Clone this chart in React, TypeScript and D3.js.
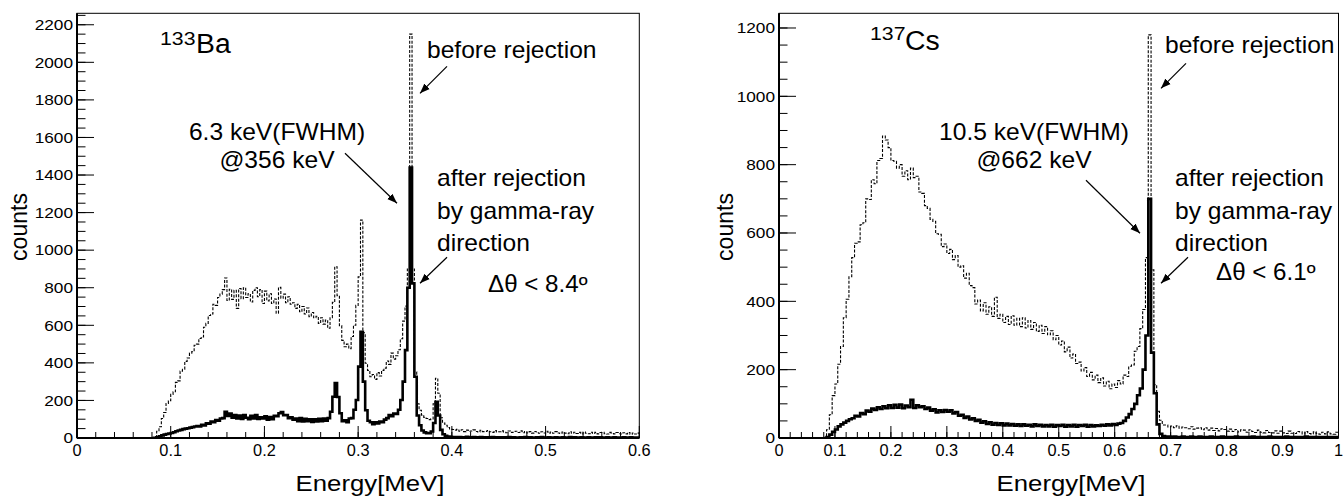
import React from 'react';
import * as d3 from 'd3';

// ---------- data: 133Ba (bins of 2.5 keV starting at 0.08 MeV) ----------
const baBinStart = 0.08;
const baBinWidth = 0.0025;
const baBefore = [
  0, 8, 36, 60, 104, 136, 184, 198, 232, 246,
  296, 304, 356, 366, 408, 426, 452, 460, 494, 500,
  530, 538, 590, 610, 652, 660, 712, 706, 748, 766,
  790, 852, 732, 792, 738, 786, 690, 796, 742, 800,
  748, 768, 724, 786, 800, 752, 790, 716, 782, 730,
  768, 716, 740, 664, 802, 744, 766, 720, 752, 712,
  720, 690, 712, 672, 700, 660, 692, 646, 668, 640,
  648, 610, 640, 606, 628, 584, 640, 722, 912, 758,
  598, 520, 486, 500, 476, 540, 600, 706, 858, 1160,
  560, 398, 360, 326, 338, 312, 348, 330, 360, 372,
  410, 392, 452, 420, 438, 470, 528, 622, 702, 900,
  2150, 900, 352, 182, 148, 122, 110, 104, 98, 102,
  182, 318, 238, 108, 80, 68, 56, 48, 45, 42,
  46, 36, 44, 34, 42, 36, 37, 43, 35, 32,
  41, 34, 35, 40, 33, 30, 39, 32, 33, 38,
  31, 28, 37, 30, 31, 36, 29, 38, 28, 35,
  27, 34, 26, 35, 28, 25, 33, 27, 36, 26,
  32, 25, 34, 27, 24, 32, 26, 23, 33, 25,
  31, 24, 30, 22, 32, 25, 23, 31, 24, 30,
  22, 29, 31, 23, 21, 30, 24, 22, 29, 23,
  21, 28, 22, 29, 20, 27, 21, 26,
];
const baAfter = [
  0, 1, 4, 9, 14, 18, 21, 24, 27, 31,
  36, 40, 43, 47, 50, 52, 55, 58, 61, 63,
  62, 70, 67, 78, 76, 88, 84, 96, 92, 104,
  106, 140, 118, 130, 108, 122, 104, 120, 102, 122,
  108, 100, 118, 104, 122, 102, 110, 104, 116, 98,
  112, 100, 118, 116, 132, 138, 122, 122, 106, 110,
  98, 104, 90, 106, 88, 102, 90, 100, 86, 100,
  88, 102, 90, 104, 92, 106, 140, 220, 292, 218,
  132, 90, 94, 84, 104, 106, 150, 202, 380, 565,
  300, 148, 92, 84, 74, 84, 78, 88, 84, 98,
  106, 122, 116, 130, 128, 150, 202, 300, 468, 800,
  1440, 823, 326, 120, 68, 40, 30, 26, 26, 35,
  80, 193, 120, 43, 20, 12, 8, 6, 5, 5,
  4, 5, 3, 4, 6, 3, 4, 5, 3, 4,
  5, 3, 4, 4, 3, 5, 4, 3, 4, 3,
  4, 3, 5, 3, 4, 3, 3, 4, 3, 5,
  3, 4, 3, 3, 4, 3, 5, 3, 3, 4,
  3, 3, 4, 3, 3, 4, 3, 3, 5, 3,
  4, 3, 3, 4, 3, 3, 4, 3, 3, 4,
  3, 4, 3, 3, 4, 3, 3, 4, 3, 3,
  3, 4, 3, 3, 4, 3, 3, 3,
];

// ---------- data: 137Cs (bins of 5 keV starting at 0.08 MeV) ----------
const csBinStart = 0.08;
const csBinWidth = 0.005;
const csBefore = [
  0, 24, 68, 124, 158, 216, 268, 352, 406, 472,
  528, 570, 574, 624, 630, 700, 698, 756, 744, 812,
  818, 884, 872, 850, 812, 810, 790, 800, 766, 782,
  756, 790, 762, 766, 720, 716, 680, 672, 640, 634,
  598, 596, 560, 568, 540, 552, 522, 534, 500, 504,
  468, 482, 446, 440, 392, 404, 372, 396, 362, 384,
  356, 412, 350, 362, 338, 356, 332, 358, 330, 350,
  326, 352, 322, 344, 318, 338, 312, 330, 306, 326,
  302, 314, 288, 300, 272, 284, 252, 266, 234, 246,
  218, 222, 196, 206, 180, 192, 170, 184, 162, 176,
  152, 166, 144, 158, 148, 168, 158, 184, 180, 210,
  214, 254, 268, 320, 376, 528, 1180, 492, 156, 78,
  52, 38, 38, 32, 35, 30, 36, 29, 32, 30,
  27, 33, 26, 29, 30, 24, 30, 23, 29, 22,
  28, 21, 27, 25, 20, 26, 19, 25, 18, 24,
  23, 17, 24, 19, 16, 23, 17, 15, 22, 16,
  15, 21, 14, 20, 15, 13, 20, 14, 13, 19,
  18, 12, 19, 13, 12, 18, 13, 11, 17, 12,
  18, 12, 11, 17,
];
const csAfter = [
  0, 3, 10, 18, 25, 34, 40, 45, 50, 55,
  58, 65, 63, 73, 70, 80, 77, 86, 82, 90,
  85, 93, 87, 96, 88, 97, 89, 98, 87, 95,
  90, 112, 88, 96, 90, 93, 85, 89, 80, 84,
  75, 81, 76, 82, 77, 81, 72, 76, 65, 68,
  59, 63, 54, 58, 50, 53, 45, 49, 41, 46,
  39, 44, 38, 43, 37, 42, 37, 41, 36, 40,
  35, 40, 36, 39, 34, 40, 35, 39, 34, 38,
  34, 39, 33, 38, 35, 39, 33, 38, 34, 39,
  33, 38, 35, 39, 33, 38, 34, 37, 35, 39,
  36, 40, 37, 41, 38, 42, 44, 50, 60, 70,
  85, 100, 125, 145, 200, 300, 700, 250, 131, 40,
  12, 6, 4, 4, 3, 4, 3, 3, 4, 3,
  3, 4, 3, 3, 4, 3, 3, 3, 4, 3,
  3, 3, 4, 3, 3, 3, 3, 4, 3, 3,
  3, 3, 3, 4, 3, 3, 3, 3, 3, 4,
  3, 3, 3, 3, 3, 4, 3, 3, 3, 3,
  3, 3, 4, 3, 3, 3, 3, 3, 3, 3,
  3, 3, 3, 3,
];

// ---------- axes ----------
const baXTicks = [0, 0.1, 0.2, 0.3, 0.4, 0.5, 0.6];
const baXLabels = ['0', '0.1', '0.2', '0.3', '0.4', '0.5', '0.6'];
const baYTicks = [0, 200, 400, 600, 800, 1000, 1200, 1400, 1600, 1800, 2000, 2200];
const csXTicks = [0, 0.1, 0.2, 0.3, 0.4, 0.5, 0.6, 0.7, 0.8, 0.9, 1];
const csXLabels = ['0', '0.1', '0.2', '0.3', '0.4', '0.5', '0.6', '0.7', '0.8', '0.9', '1'];
const csYTicks = [0, 200, 400, 600, 800, 1000, 1200];

const FONT = "'Liberation Sans', Arial, Helvetica, sans-serif";

function T({ x, y, size, sx = 1, anchor = 'start', rotate, children }: any) {
  const tr = `translate(${x},${y})${rotate ? ` rotate(${rotate})` : ''} scale(${sx},1)`;
  return (
    <g transform={tr}>
      <text x={0} y={0} fontSize={size} textAnchor={anchor} fontFamily={FONT} fill="#000">
        {children}
      </text>
    </g>
  );
}

function Arrow({ x1, y1, x2, y2 }: any) {
  return <line x1={x1} y1={y1} x2={x2} y2={y2} stroke="#000" strokeWidth={1.2} markerEnd="url(#ah)" />;
}

function Panel(props: any) {
  const {
    id, left, right, top, bottom, xMax, yMax, xTicks, xLabels, yTicks,
    xMinor, yMinor, binStart, binWidth, before, after, iso, isoMass, fwhm, at, delta, ann,
  } = props;
  const x = d3.scaleLinear().domain([0, xMax]).range([left, right]);
  const y = d3.scaleLinear().domain([0, yMax]).range([bottom, top]);

  const pts = (vals: number[]) => {
    const p: [number, number][] = vals.map((v, i) => [binStart + i * binWidth, v]);
    p.push([binStart + vals.length * binWidth, vals[vals.length - 1]]);
    return p;
  };
  const line = d3
    .line<[number, number]>()
    .x((d) => x(d[0]))
    .y((d) => y(d[1]))
    .curve(d3.curveStepAfter);

  const xMinorTicks = d3.range(0, xMax + 1e-9, xMinor);
  const yMinorTicks = d3.range(0, yMax, yMinor);
  const a = ann;
  const L = left;
  const Tp = top;

  return (
    <g>
      <defs>
        <clipPath id={`clip-${id}`}>
          <rect x={left} y={top} width={right - left} height={bottom - top} />
        </clipPath>
      </defs>
      <g clipPath={`url(#clip-${id})`}>
        <path d={line(pts(before)) || ''} fill="none" stroke="#000" strokeWidth={1.1} strokeDasharray="3 1.6" />
        <path d={line(pts(after)) || ''} fill="none" stroke="#000" strokeWidth={2.6} strokeLinejoin="miter" />
      </g>
      <rect x={left} y={top} width={right - left} height={bottom - top} fill="none" stroke="#000" strokeWidth={1} />
      <line x1={left} x2={left} y1={top} y2={bottom} stroke="#000" strokeWidth={2} />
      <line x1={left} x2={right} y1={bottom} y2={bottom} stroke="#000" strokeWidth={2} />
      {xMinorTicks.map((t: number, i: number) => (
        <line key={`xm${i}`} x1={x(t)} x2={x(t)} y1={bottom} y2={bottom - 6} stroke="#000" strokeWidth={1} />
      ))}
      {xTicks.map((t: number, i: number) => (
        <g key={`xt${i}`}>
          <line x1={x(t)} x2={x(t)} y1={bottom} y2={bottom - 12} stroke="#000" strokeWidth={1} />
          <T x={x(t)} y={bottom + 18} size={16} sx={1.02} anchor="middle">{xLabels[i]}</T>
        </g>
      ))}
      {yMinorTicks.map((t: number, i: number) => (
        <line key={`ym${i}`} x1={left} x2={left + 8.5} y1={y(t)} y2={y(t)} stroke="#000" strokeWidth={1} />
      ))}
      {yTicks.map((t: number, i: number) => (
        <g key={`yt${i}`}>
          <line x1={left} x2={left + 17} y1={y(t)} y2={y(t)} stroke="#000" strokeWidth={1} />
          <T x={left - 4} y={y(t) + 5.3} size={15} sx={1.15} anchor="end">{String(t)}</T>
        </g>
      ))}
      <T x={props.countsX} y={227} size={23} rotate={-90} anchor="middle">counts</T>
      <T x={props.energyX} y={491} size={23} sx={1.12} anchor="middle">Energy[MeV]</T>
      <T x={L + a.massX} y={Tp + a.massY} size={19} sx={1.12}>{isoMass}</T>
      <T x={L + a.isoX} y={Tp + a.isoY} size={27} sx={1.05}>{iso}</T>
      <T x={L + a.fwhmX} y={Tp + 127} size={23} sx={1.07} anchor="middle">{fwhm}</T>
      <T x={L + a.fwhmX} y={Tp + 155} size={23} sx={1.07} anchor="middle">{at}</T>
      <T x={L + a.beforeX} y={Tp + a.beforeY} size={23} sx={1.07}>before rejection</T>
      <T x={L + a.afterX} y={Tp + a.afterY} size={23} sx={1.07}>after rejection</T>
      <T x={L + a.afterX} y={Tp + a.afterY + 33} size={23} sx={1.07}>by gamma-ray</T>
      <T x={L + a.afterX} y={Tp + a.afterY + 65} size={23} sx={1.07}>direction</T>
      <T x={L + a.deltaX} y={Tp + a.deltaY} size={23} sx={1.05}>{delta}</T>
      {a.arrows.map((r: number[], i: number) => (
        <Arrow key={`ar${i}`} x1={L + r[0]} y1={Tp + r[1]} x2={L + r[2]} y2={Tp + r[3]} />
      ))}
    </g>
  );
}

export default function App() {
  return (
    <svg
      width={1343}
      height={499}
      viewBox="0 0 1343 499"
      style={{ position: 'absolute', left: 0, top: 0, background: '#fff' }}
    >
      <defs>
        <marker id="ah" viewBox="0 0 10 10" refX="10" refY="5" markerWidth="10" markerHeight="10"
          markerUnits="userSpaceOnUse" orient="auto">
          <path d="M0,1.2 L10,5 L0,8.8 z" fill="#000" />
        </marker>
      </defs>
      <rect x={0} y={0} width={1343} height={499} fill="#fff" />
      <Panel
        id="ba" left={77} right={639.3} top={13.3} bottom={438} xMax={0.6} yMax={2261}
        xTicks={baXTicks} xLabels={baXLabels} yTicks={baYTicks} xMinor={0.02} yMinor={50}
        binStart={baBinStart} binWidth={baBinWidth} before={baBefore} after={baAfter}
        iso="Ba" isoMass="133" fwhm="6.3 keV(FWHM)" at="@356 keV" delta="Δθ < 8.4º"
        countsX={27} energyX={370}
        ann={{
          massX: 83, massY: 32, isoX: 119, isoY: 40, fwhmX: 200,
          beforeX: 350, beforeY: 45, afterX: 360, afterY: 173, deltaX: 411, deltaY: 279,
          arrows: [[370, 53, 343, 80], [268, 140, 320, 190], [370, 244, 343, 270]],
        }}
      />
      <Panel
        id="cs" left={779} right={1338.5} top={13.3} bottom={438} xMax={1} yMax={1243}
        xTicks={csXTicks} xLabels={csXLabels} yTicks={csYTicks} xMinor={0.02} yMinor={50}
        binStart={csBinStart} binWidth={csBinWidth} before={csBefore} after={csAfter}
        iso="Cs" isoMass="137" fwhm="10.5 keV(FWHM)" at="@662 keV" delta="Δθ < 6.1º"
        countsX={733} energyX={1071}
        ann={{
          massX: 91, massY: 27, isoX: 126, isoY: 37, fwhmX: 255,
          beforeX: 386, beforeY: 40, afterX: 396, afterY: 173, deltaX: 437, deltaY: 267,
          arrows: [[407, 50, 382, 75], [307, 167, 361, 220], [409, 244, 382, 270]],
        }}
      />
    </svg>
  );
}
